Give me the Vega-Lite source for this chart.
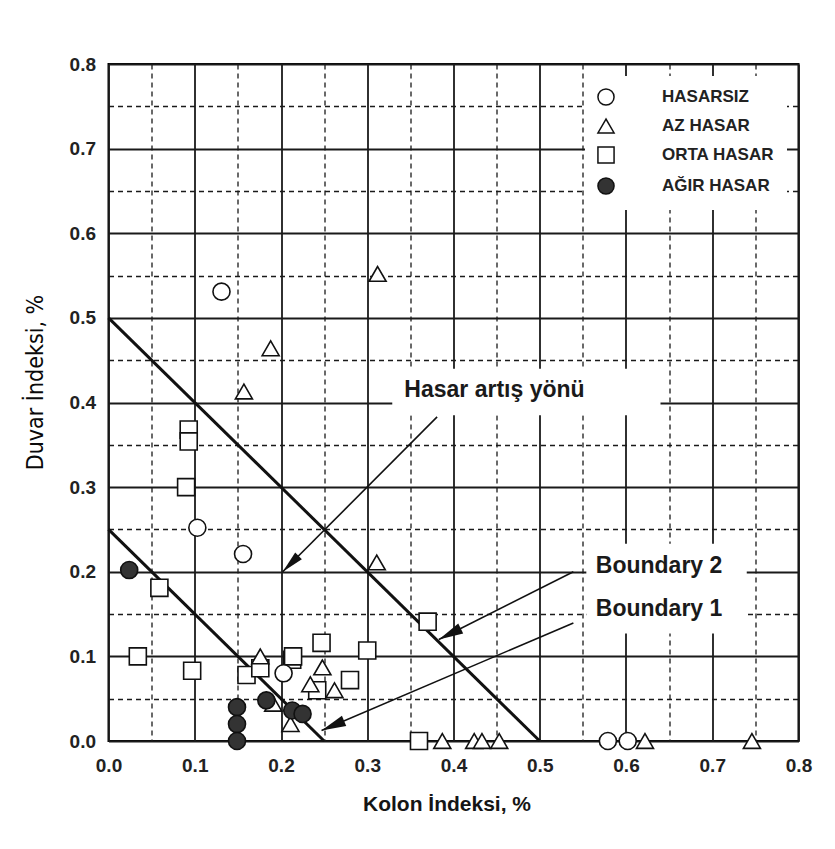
{
  "$schema": "https://vega.github.io/schema/vega-lite/v6.json",
  "width": 690,
  "height": 677,
  "autosize": {"type": "none"},
  "padding": {"left": 108.5, "top": 64, "right": 36.5, "bottom": 108},
  "background": "white",
  "config": {
    "view": {"stroke": "black", "strokeWidth": 2},
    "font": "Liberation Sans",
    "axis": {
      "ticks": false,
      "domain": false,
      "grid": true,
      "gridColor": "#1a1a1a",
      "labelFlush": false,
      "labelOverlap": false,
      "labelFont": "Liberation Sans",
      "labelFontWeight": "bold",
      "labelFontSize": 19,
      "labelColor": "#222222",
      "titleColor": "#151515"
    }
  },
  "datasets": {
    "points": [
      {"kolon": 0.093, "duvar": 0.368, "hasar": "ORTA HASAR"},
      {"kolon": 0.093, "duvar": 0.354, "hasar": "ORTA HASAR"},
      {"kolon": 0.090, "duvar": 0.300, "hasar": "ORTA HASAR"},
      {"kolon": 0.059, "duvar": 0.181, "hasar": "ORTA HASAR"},
      {"kolon": 0.034, "duvar": 0.100, "hasar": "ORTA HASAR"},
      {"kolon": 0.097, "duvar": 0.083, "hasar": "ORTA HASAR"},
      {"kolon": 0.160, "duvar": 0.078, "hasar": "ORTA HASAR"},
      {"kolon": 0.176, "duvar": 0.086, "hasar": "ORTA HASAR"},
      {"kolon": 0.213, "duvar": 0.096, "hasar": "ORTA HASAR"},
      {"kolon": 0.214, "duvar": 0.100, "hasar": "ORTA HASAR"},
      {"kolon": 0.247, "duvar": 0.116, "hasar": "ORTA HASAR"},
      {"kolon": 0.242, "duvar": 0.060, "hasar": "ORTA HASAR"},
      {"kolon": 0.280, "duvar": 0.072, "hasar": "ORTA HASAR"},
      {"kolon": 0.300, "duvar": 0.107, "hasar": "ORTA HASAR"},
      {"kolon": 0.370, "duvar": 0.141, "hasar": "ORTA HASAR"},
      {"kolon": 0.360, "duvar": 0.000, "hasar": "ORTA HASAR"},
      {"kolon": 0.312, "duvar": 0.552, "hasar": "AZ HASAR"},
      {"kolon": 0.188, "duvar": 0.464, "hasar": "AZ HASAR"},
      {"kolon": 0.157, "duvar": 0.413, "hasar": "AZ HASAR"},
      {"kolon": 0.311, "duvar": 0.211, "hasar": "AZ HASAR"},
      {"kolon": 0.176, "duvar": 0.100, "hasar": "AZ HASAR"},
      {"kolon": 0.248, "duvar": 0.087, "hasar": "AZ HASAR"},
      {"kolon": 0.234, "duvar": 0.067, "hasar": "AZ HASAR"},
      {"kolon": 0.262, "duvar": 0.060, "hasar": "AZ HASAR"},
      {"kolon": 0.211, "duvar": 0.020, "hasar": "AZ HASAR"},
      {"kolon": 0.191, "duvar": 0.044, "hasar": "AZ HASAR"},
      {"kolon": 0.387, "duvar": 0.000, "hasar": "AZ HASAR"},
      {"kolon": 0.424, "duvar": 0.000, "hasar": "AZ HASAR"},
      {"kolon": 0.433, "duvar": 0.000, "hasar": "AZ HASAR"},
      {"kolon": 0.453, "duvar": 0.000, "hasar": "AZ HASAR"},
      {"kolon": 0.622, "duvar": 0.000, "hasar": "AZ HASAR"},
      {"kolon": 0.746, "duvar": 0.000, "hasar": "AZ HASAR"},
      {"kolon": 0.131, "duvar": 0.531, "hasar": "HASARSIZ"},
      {"kolon": 0.103, "duvar": 0.252, "hasar": "HASARSIZ"},
      {"kolon": 0.156, "duvar": 0.221, "hasar": "HASARSIZ"},
      {"kolon": 0.203, "duvar": 0.080, "hasar": "HASARSIZ"},
      {"kolon": 0.579, "duvar": 0.000, "hasar": "HASARSIZ"},
      {"kolon": 0.602, "duvar": 0.000, "hasar": "HASARSIZ"},
      {"kolon": 0.024, "duvar": 0.202, "hasar": "AĞIR HASAR"},
      {"kolon": 0.149, "duvar": 0.040, "hasar": "AĞIR HASAR"},
      {"kolon": 0.149, "duvar": 0.020, "hasar": "AĞIR HASAR"},
      {"kolon": 0.149, "duvar": 0.000, "hasar": "AĞIR HASAR"},
      {"kolon": 0.183, "duvar": 0.048, "hasar": "AĞIR HASAR"},
      {"kolon": 0.213, "duvar": 0.036, "hasar": "AĞIR HASAR"},
      {"kolon": 0.225, "duvar": 0.032, "hasar": "AĞIR HASAR"}
    ],
    "boundaries": [
      {"name": "Boundary 1", "kolon": 0.0, "duvar": 0.25},
      {"name": "Boundary 1", "kolon": 0.25, "duvar": 0.0},
      {"name": "Boundary 2", "kolon": 0.0, "duvar": 0.5},
      {"name": "Boundary 2", "kolon": 0.5, "duvar": 0.0}
    ],
    "arrows": [
      {"name": "Hasar artış yönü", "kolon": 0.381, "duvar": 0.383, "kolon2": 0.202, "duvar2": 0.200},
      {"name": "Boundary 2", "kolon": 0.539, "duvar": 0.200, "kolon2": 0.383, "duvar2": 0.120},
      {"name": "Boundary 1", "kolon": 0.539, "duvar": 0.1395, "kolon2": 0.247, "duvar2": 0.0125}
    ],
    "boxes": [
      {"kolon": 0.329, "kolon2": 0.640, "duvar": 0.385, "duvar2": 0.440},
      {"kolon": 0.554, "kolon2": 0.740, "duvar": 0.127, "duvar2": 0.233}
    ],
    "labels": [
      {"text": "Hasar artış yönü", "kolon": 0.343, "duvar": 0.406},
      {"text": "Boundary 2", "kolon": 0.565, "duvar": 0.199},
      {"text": "Boundary 1", "kolon": 0.565, "duvar": 0.148}
    ]
  },
  "layer": [
    {
      "data": {"name": "boxes"},
      "mark": {"type": "rect", "fill": "white", "stroke": null},
      "encoding": {
        "x": {
          "field": "kolon", "type": "quantitative",
          "scale": {"domain": [0, 0.8], "nice": false, "zero": false},
          "title": "Kolon İndeksi, %",
          "axis": {
            "values": [0, 0.05, 0.1, 0.15, 0.2, 0.25, 0.3, 0.35, 0.4, 0.45, 0.5, 0.55, 0.6, 0.65, 0.7, 0.75, 0.8],
            "labelExpr": "round(datum.value*20) % 2 == 0 ? format(datum.value, '.1f') : ''",
            "gridDash": {"condition": {"test": "round(datum.value*20) % 2 == 1", "value": [5, 4]}, "value": []},
            "gridWidth": {"condition": {"test": "round(datum.value*20) % 2 == 1", "value": 1.3}, "value": 1.8},
            "labelPadding": 15,
            "titleFontSize": 21,
            "titleFontWeight": "bold",
            "titleX": 338,
            "titleY": 69.5,
            "titleBaseline": "alphabetic",
            "titleAnchor": null
          }
        },
        "x2": {"field": "kolon2"},
        "y": {
          "field": "duvar", "type": "quantitative",
          "scale": {"domain": [0, 0.8], "nice": false, "zero": false},
          "title": "Duvar İndeksi, %",
          "axis": {
            "values": [0, 0.05, 0.1, 0.15, 0.2, 0.25, 0.3, 0.35, 0.4, 0.45, 0.5, 0.55, 0.6, 0.65, 0.7, 0.75, 0.8],
            "labelExpr": "round(datum.value*20) % 2 == 0 ? format(datum.value, '.1f') : ''",
            "gridDash": {"condition": {"test": "round(datum.value*20) % 2 == 1", "value": [5, 4]}, "value": []},
            "gridWidth": {"condition": {"test": "round(datum.value*20) % 2 == 1", "value": 1.3}, "value": 1.8},
            "labelPadding": 13,
            "titleFont": "Liberation Sans Narrow, DejaVu Sans Condensed, Liberation Sans, sans-serif",
            "titleFontSize": 23,
            "titleFontWeight": "normal",
            "titleColor": "#0a0a0a",
            "titleAngle": -90,
            "titleX": -66,
            "titleY": 318,
            "titleAlign": "center",
            "titleBaseline": "alphabetic"
          }
        },
        "y2": {"field": "duvar2"}
      }
    },
    {
      "data": {"name": "boundaries"},
      "mark": {"type": "line", "color": "#111111", "strokeWidth": 3},
      "encoding": {
        "x": {"field": "kolon", "type": "quantitative", "scale": {"domain": [0, 0.8], "nice": false, "zero": false}, "title": "Kolon İndeksi, %"},
        "y": {"field": "duvar", "type": "quantitative", "scale": {"domain": [0, 0.8], "nice": false, "zero": false}, "title": "Duvar İndeksi, %"},
        "detail": {"field": "name", "type": "nominal"}
      }
    },
    {
      "data": {"name": "arrows"},
      "mark": {"type": "rule", "color": "#111111", "strokeWidth": 1.6},
      "encoding": {
        "x": {"field": "kolon", "type": "quantitative", "scale": {"domain": [0, 0.8], "nice": false, "zero": false}, "title": "Kolon İndeksi, %"},
        "y": {"field": "duvar", "type": "quantitative", "scale": {"domain": [0, 0.8], "nice": false, "zero": false}, "title": "Duvar İndeksi, %"},
        "x2": {"field": "kolon2"},
        "y2": {"field": "duvar2"}
      }
    },
    {
      "data": {"name": "arrows"},
      "transform": [{"filter": "datum.name == 'Hasar artış yönü'"}],
      "mark": {"type": "point", "shape": "M0,0 L0.42,2 L-0.42,2 Z", "filled": true, "color": "#111111", "size": 500, "angle": 225, "opacity": 1},
      "encoding": {
        "x": {"field": "kolon2", "type": "quantitative", "scale": {"domain": [0, 0.8], "nice": false, "zero": false}, "title": "Kolon İndeksi, %"},
        "y": {"field": "duvar2", "type": "quantitative", "scale": {"domain": [0, 0.8], "nice": false, "zero": false}, "title": "Duvar İndeksi, %"}
      }
    },
    {
      "data": {"name": "arrows"},
      "transform": [{"filter": "datum.name == 'Boundary 2'"}],
      "mark": {"type": "point", "shape": "M0,0 L0.45,2 L-0.45,2 Z", "filled": true, "color": "#111111", "size": 600, "angle": 243.4, "opacity": 1},
      "encoding": {
        "x": {"field": "kolon2", "type": "quantitative", "scale": {"domain": [0, 0.8], "nice": false, "zero": false}, "title": "Kolon İndeksi, %"},
        "y": {"field": "duvar2", "type": "quantitative", "scale": {"domain": [0, 0.8], "nice": false, "zero": false}, "title": "Duvar İndeksi, %"}
      }
    },
    {
      "data": {"name": "arrows"},
      "transform": [{"filter": "datum.name == 'Boundary 1'"}],
      "mark": {"type": "point", "shape": "M0,0 L0.45,2 L-0.45,2 Z", "filled": true, "color": "#111111", "size": 600, "angle": 247, "opacity": 1},
      "encoding": {
        "x": {"field": "kolon2", "type": "quantitative", "scale": {"domain": [0, 0.8], "nice": false, "zero": false}, "title": "Kolon İndeksi, %"},
        "y": {"field": "duvar2", "type": "quantitative", "scale": {"domain": [0, 0.8], "nice": false, "zero": false}, "title": "Duvar İndeksi, %"}
      }
    },
    {
      "data": {"name": "points"},
      "mark": {"type": "point", "size": 290, "strokeWidth": 1.6, "stroke": "#111111", "opacity": 1},
      "encoding": {
        "x": {"field": "kolon", "type": "quantitative", "scale": {"domain": [0, 0.8], "nice": false, "zero": false}, "title": "Kolon İndeksi, %"},
        "y": {"field": "duvar", "type": "quantitative", "scale": {"domain": [0, 0.8], "nice": false, "zero": false}, "title": "Duvar İndeksi, %"},
        "shape": {
          "field": "hasar", "type": "nominal",
          "scale": {"domain": ["HASARSIZ", "AZ HASAR", "ORTA HASAR", "AĞIR HASAR"], "range": ["circle", "triangle-up", "square", "circle"]},
          "legend": {
            "title": null,
            "orient": "none",
            "legendX": 476.5,
            "legendY": 12,
            "fillColor": "white",
            "padding": 12,
            "symbolSize": 260,
            "labelFont": "Liberation Sans",
            "labelFontSize": 17,
            "labelFontWeight": "bold",
            "labelColor": "#222222",
            "labelOffset": 47,
            "rowPadding": 7,
            "encode": {"symbols": {"update": {"stroke": {"value": "#111111"}, "strokeWidth": {"value": 1.6}}}}
          }
        },
        "fill": {
          "field": "hasar", "type": "nominal",
          "scale": {"domain": ["HASARSIZ", "AZ HASAR", "ORTA HASAR", "AĞIR HASAR"], "range": ["white", "white", "white", "#333333"]},
          "legend": {
            "title": null,
            "orient": "none",
            "legendX": 476.5,
            "legendY": 12,
            "fillColor": "white",
            "padding": 12,
            "symbolSize": 260,
            "labelFont": "Liberation Sans",
            "labelFontSize": 17,
            "labelFontWeight": "bold",
            "labelColor": "#222222",
            "labelOffset": 47,
            "rowPadding": 7,
            "encode": {"symbols": {"update": {"stroke": {"value": "#111111"}, "strokeWidth": {"value": 1.6}}}}
          }
        }
      }
    },
    {
      "data": {"name": "labels"},
      "mark": {"type": "text", "align": "left", "baseline": "alphabetic", "font": "Liberation Sans", "fontWeight": "bold", "fontSize": 23, "color": "#1a1a1a"},
      "encoding": {
        "x": {"field": "kolon", "type": "quantitative", "scale": {"domain": [0, 0.8], "nice": false, "zero": false}, "title": "Kolon İndeksi, %"},
        "y": {"field": "duvar", "type": "quantitative", "scale": {"domain": [0, 0.8], "nice": false, "zero": false}, "title": "Duvar İndeksi, %"},
        "text": {"field": "text", "type": "nominal"}
      }
    }
  ]
}
